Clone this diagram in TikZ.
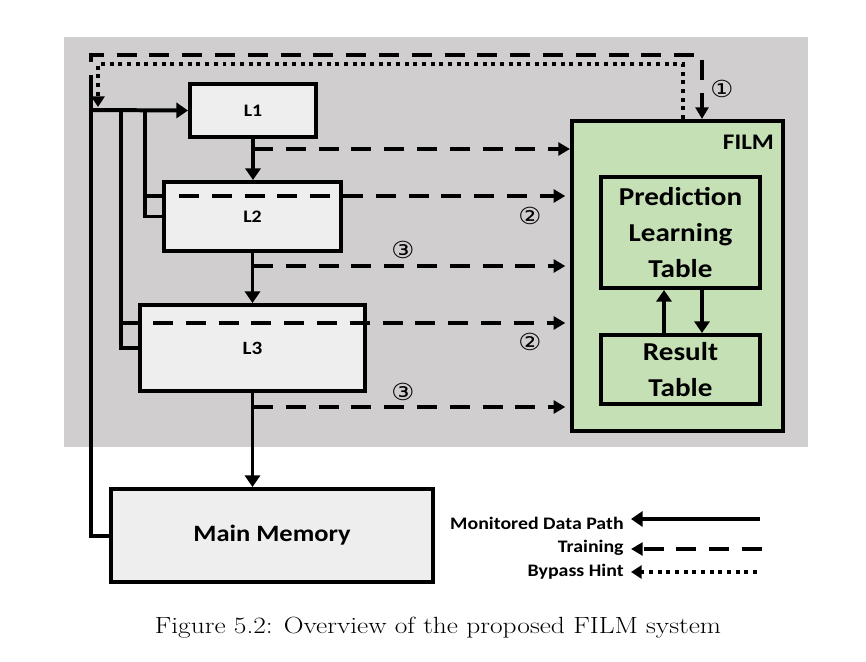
\documentclass[tikz,border=0pt]{standalone}
\usepackage{fontspec}
\newfontfamily\calib[FakeStretch=1.13]{Carlito}
\newfontfamily\symf[FakeStretch=1.1]{DejaVu Sans}
\newfontfamily\capf[FakeStretch=1.17]{Latin Modern Roman}
\usetikzlibrary{arrows.meta,calc,shadows}

\definecolor{bggray}{RGB}{208,206,206}
\definecolor{filmgreen}{RGB}{197,224,180}
\definecolor{boxgray}{RGB}{238,238,238}

\tikzset{
  cache/.style={draw, line width=3.4pt, fill=boxgray,
    drop shadow={opacity=0.25, shadow xshift=1.5pt, shadow yshift=-1.5pt},
    font=\calib\bfseries\fontsize{15}{18}\selectfont},
  tbl/.style={draw, line width=3.4pt, fill=filmgreen, align=center,
    font=\calib\bfseries\fontsize{22}{31}\selectfont},
  datapath/.style={line width=3.4pt, -{Triangle[length=10pt,width=13pt]}},
  train/.style={line width=3.4pt, dash pattern=on 17pt off 11pt,
    -{Triangle[length=10pt,width=11pt]}},
  bypass/.style={line width=3.4pt, dash pattern=on 3.4pt off 4pt,
    -{Triangle[length=9pt,width=11pt]}},
  stepno/.style={font=\symf\fontsize{20}{20}\selectfont, inner sep=0pt},
  legend/.style={font=\calib\bfseries\fontsize{15}{18}\selectfont, inner sep=1pt, anchor=east},
}

\begin{document}
\begin{tikzpicture}[x=0.03cm, y=-0.03cm]
    \useasboundingbox (0,0) rectangle (866,661);
    \fill[bggray] (64,37) rectangle (808,447);

    % caches and memory
    \node[cache, minimum width=3.78cm, minimum height=1.59cm] (l1) at (253,110.5) {L1};
    \node[cache, minimum width=5.31cm, minimum height=2.07cm] (l2) at (252.5,216.5) {L2};
    \node[cache, minimum width=6.75cm, minimum height=2.58cm,
          font=\calib\bfseries\fontsize{16}{19}\selectfont] (l3) at (252.5,348) {L3};
    \node[cache, minimum width=9.66cm, minimum height=2.79cm,
          font=\calib\bfseries\fontsize{20}{24}\selectfont] (mm) at (272,535.5) {Main Memory};

    % FILM
    \node[tbl, minimum width=6.33cm, minimum height=9.3cm] (film) at (677.5,276) {};
    \node[font=\calib\bfseries\fontsize{19}{22}\selectfont, anchor=north east] (filmlbl)
        at ($(film.north east)+(-7,12)$) {FILM};
    \node[tbl, minimum width=4.77cm, minimum height=3.33cm] (plt) at (680.5,232.5)
        {Prediction\\Learning\\Table};
    \node[tbl, minimum width=4.77cm, minimum height=2.07cm] (rt) at (680.5,369.5)
        {Result\\Table};
    \draw[datapath] ($(rt.north)+(-16.5,0)$) -- ($(plt.south)+(-16.5,0)$);
    \draw[datapath] ($(plt.south)+(21.5,0)$) -- ($(rt.north)+(21.5,0)$);

    % monitored data path
    \coordinate (top) at (91,95);
    \coordinate (j1) at (91,110);
    \coordinate (j2) at (145,110);
    \coordinate (j3) at (121,110);
    \draw[line width=3.4pt] (mm.west) -| (top);
    \draw[datapath] (j1) -- (l1.west);
    \draw[line width=3.4pt] (j2) |- (l2.west);
    \draw[line width=3.4pt] (j3) |- (l3.west);
    \draw[line width=3.4pt] (145,196) -- (l2.west |- 0,196);
    \draw[line width=3.4pt] (121,323) -- (l3.west |- 0,323);
    \draw[datapath] (l1.south) -- (l1.south |- l2.north);
    \draw[datapath] (l2.south) -- (l2.south |- l3.north);
    \draw[datapath] (l3.south) -- (l3.south |- mm.north);

    % training
    \coordinate (t1) at (253,149);
    \coordinate (t2) at (179,196);
    \coordinate (t3) at (253,266);
    \coordinate (t4) at (153,323);
    \coordinate (t5) at (253,407);
    \draw[train] (t1) -- (t1 -| film.west);
    \draw[train, shorten >=4pt] (t2) -- (t2 -| film.west);
    \draw[train, shorten >=4pt] (t3) -- (t3 -| film.west);
    \draw[train, shorten >=4pt] (t4) -- (t4 -| film.west);
    \draw[train, shorten >=4pt] (t5) -- (t5 -| film.west);
    \draw[train] (top) |- (702,55) -- ($(film.north)+(24.5,0)$);

    % bypass hint
    \draw[bypass] ($(film.north)+(5.5,0)$) |- (98,64) -- (98,107);

    \node[stepno] (s1) at (722,89) {①};
    \node[stepno] (s2a) at (530,216) {②};
    \node[stepno] (s2b) at (530,342) {②};
    \node[stepno] (s3a) at (403,250) {③};
    \node[stepno] (s3b) at (403,392) {③};

    % legend
    \node[legend] (lg1) at (625,523) {Monitored Data Path};
    \node[legend] (lg2) at (625,548) {Training};
    \node[legend] (lg3) at (625,572) {Bypass Hint};
    \coordinate (lg1e) at (760,519);
    \coordinate (lg2e) at (762,549);
    \coordinate (lg3e) at (757,572);
    \draw[datapath] (lg1e) -- ($(lg1.east |- lg1e)+(6,0)$);
    \draw[train] (lg2e) -- ($(lg2.east |- lg2e)+(6,0)$);
    \draw[bypass] (lg3e) -- ($(lg3.east |- lg3e)+(6,0)$);

    \node[font=\capf\fontsize{20}{24}\selectfont] (cap) at (438,628)
        {Figure 5.2: Overview of the proposed FILM system};
\end{tikzpicture}
\end{document}
